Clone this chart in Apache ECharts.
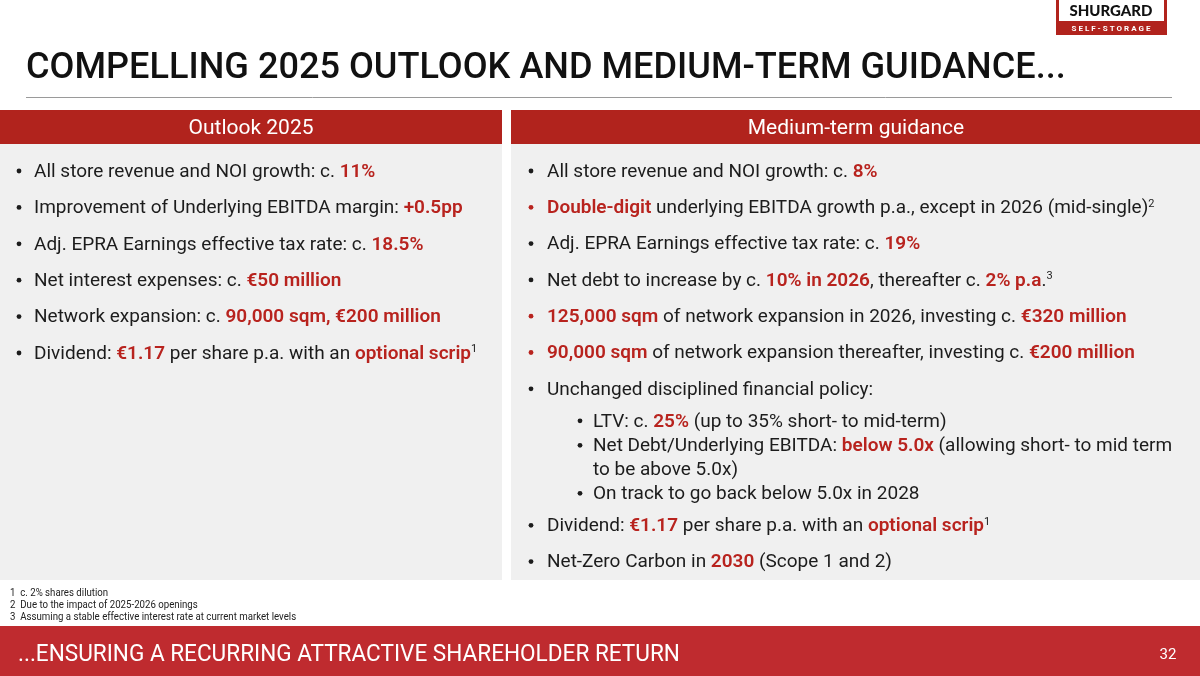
<!DOCTYPE html>
<html><head><meta charset="utf-8">
<script src="https://cdn.jsdelivr.net/npm/echarts@6/dist/echarts.min.js"></script>
<style>html,body{margin:0;padding:0;background:#fff}#c{width:1200px;height:676px}</style>
</head><body><div id="c"></div>
<script>
// ---- content ----
const titleText = 'COMPELLING 2025 OUTLOOK AND MEDIUM-TERM GUIDANCE...';
const panelHeaders = ['Outlook 2025', 'Medium-term guidance'];
const outlookItems = [
  'All store revenue and NOI growth: c. {r|11%}',
  'Improvement of Underlying EBITDA margin: {r|+0.5pp}',
  'Adj. EPRA Earnings effective tax rate: c. {r|18.5%}',
  'Net interest expenses: c. {r|€50 million}',
  'Network expansion: c. {r|90,000 sqm, €200 million}',
  'Dividend: {r|€1.17} per share p.a. with an {r|optional scrip}{sup|1}'
];
const guidanceItems = [
  'All store revenue and NOI growth: c. {r|8%}',
  '{r|Double-digit} underlying EBITDA growth p.a., except in 2026 (mid-single){sup|2}',
  'Adj. EPRA Earnings effective tax rate: c. {r|19%}',
  'Net debt to increase by c. {r|10% in 2026}, thereafter c. {r|2% p.a}.{sup|3}',
  '{r|125,000 sqm} of network expansion in 2026, investing c. {r|€320 million}',
  '{r|90,000 sqm} of network expansion thereafter, investing c. {r|€200 million}',
  'Unchanged disciplined financial policy:',
  'LTV: c. {r|25%} (up to 35% short- to mid-term)',
  'Net Debt/Underlying EBITDA: {r|below 5.0x} (allowing short- to mid term\nto be above 5.0x)',
  'On track to go back below 5.0x in 2028',
  'Dividend: {r|€1.17} per share p.a. with an {r|optional scrip}{sup|1}',
  'Net-Zero Carbon in {r|2030} (Scope 1 and 2)'
];
const guidanceLevels = [0, 0, 0, 0, 0, 0, 0, 1, 1, 1, 0, 0];
const footnotes = ['1  c. 2% shares dilution', '2  Due to the impact of 2025-2026 openings', '3  Assuming a stable effective interest rate at current market levels'];
const footerText = '...ENSURING A RECURRING ATTRACTIVE SHAREHOLDER RETURN';
const pageNumber = '32';
const logoName = 'SHURGARD';
const logoTag = 'S E L F - S T O R A G E';

// ---- style ----
const RED = '#b1231d';
const TXTRED = '#b8231e';
const INK = '#1c1c1c';
const FONT = 'Roboto, "Noto Sans", sans-serif';
const BODY = 19, SX = 1.0, LH = 24;

const rich = {
  r: { fill: TXTRED, fontWeight: 600, fontSize: BODY, fontFamily: FONT, lineHeight: LH },
  sup: { fill: INK, fontSize: 11, fontFamily: FONT, verticalAlign: 'top', lineHeight: LH, padding: [2, 0, 0, 0] }
};

const g = [];
function rect(x, y, w, h, fill) { g.push({ type: 'rect', shape: { x, y, width: w, height: h }, style: { fill }, silent: true }); }
function txt(x, y, text, o) {
  g.push(Object.assign({ type: 'text', x, y, silent: true,
    style: Object.assign({ text, fill: INK, fontFamily: FONT, fontSize: BODY, lineHeight: LH, rich,
      align: 'left', verticalAlign: 'top' }, o.style || {}) }, o.el || {}));
}
function bullet(x, cy, item) {
  const red = item.indexOf('{r|') === 0;
  g.push({ type: 'circle', shape: { cx: x, cy: cy, r: 2.4 }, style: { fill: red ? TXTRED : INK }, silent: true });
}

// background & panels
rect(0, 0, 1200, 676, '#ffffff');
rect(0, 110, 502, 34, RED);
rect(511, 110, 689, 34, RED);
rect(0, 144, 502, 436, '#f0f0f0');
rect(511, 144, 689, 436, '#f0f0f0');
rect(0, 626, 1200, 50, '#bf2b2f');
g.push({ type: 'line', shape: { x1: 26, y1: 97.5, x2: 1172, y2: 97.5 }, style: { stroke: '#9a9a9a', lineWidth: 1 }, silent: true });

// logo
rect(1056, 0, 111, 35, RED);
rect(1059, 0, 105, 21, '#ffffff');
txt(1111, 11, logoName, { style: { fontSize: 15, fontWeight: 900, fill: '#111', align: 'center', verticalAlign: 'middle', fontFamily: 'Lato, Roboto, sans-serif' } });
txt(1111, 28.5, logoTag, { style: { fontSize: 8, fontWeight: 700, fill: '#fff', align: 'center', verticalAlign: 'middle' } });

// title
txt(26, 69, titleText, { style: { fontSize: 37, fontWeight: 500, fill: '#111', verticalAlign: 'middle' }, el: { scaleX: 0.976 } });

// headers
txt(251, 128.5, panelHeaders[0], { style: { fontSize: 21, fill: '#fff', align: 'center', verticalAlign: 'middle' }, el: { scaleX: SX } });
txt(856, 128.5, panelHeaders[1], { style: { fontSize: 21, fill: '#fff', align: 'center', verticalAlign: 'middle' }, el: { scaleX: SX } });

// left list
outlookItems.forEach((it, i) => {
  const cy = 171 + i * 36.4;
  bullet(19, cy, it);
  txt(34, cy - LH / 2 + 1, it, { el: { scaleX: SX } });
});

// right list
let cy = 171, prev = -1;
guidanceItems.forEach((it, i) => {
  const lv = guidanceLevels[i];
  if (i > 0) {
    if (lv === 1 && prev === 0) cy += 32;
    else if (lv === 1) cy += 24.5;
    else if (prev === 1) cy += 32;
    else cy += 36.3;
  }
  const bx = lv ? 580 : 531, tx = lv ? 593 : 547;
  bullet(bx, cy, it);
  txt(tx, cy - LH / 2 + 1, it, { el: { scaleX: SX } });
  const lines = it.split('\n').length;
  cy += (lines - 1) * 23.5;
  prev = lv;
});

// footnotes
footnotes.forEach((f, i) => txt(10, 593 + i * 12 - 6, f, { style: { fontSize: 10.5, lineHeight: 12, fill: '#222' }, el: { scaleX: 0.92 } }));

// footer
txt(18, 655, footerText, { style: { fontSize: 24, fill: '#fff', verticalAlign: 'middle' }, el: { scaleX: 0.94 } });
txt(1168, 655, pageNumber, { style: { fontSize: 15, fill: '#fff', align: 'center', verticalAlign: 'middle' } });

const chart = echarts.init(document.getElementById('c'), null, { renderer: 'canvas' });
chart.setOption({ animation: false, graphic: { elements: g } });
</script></body></html>
